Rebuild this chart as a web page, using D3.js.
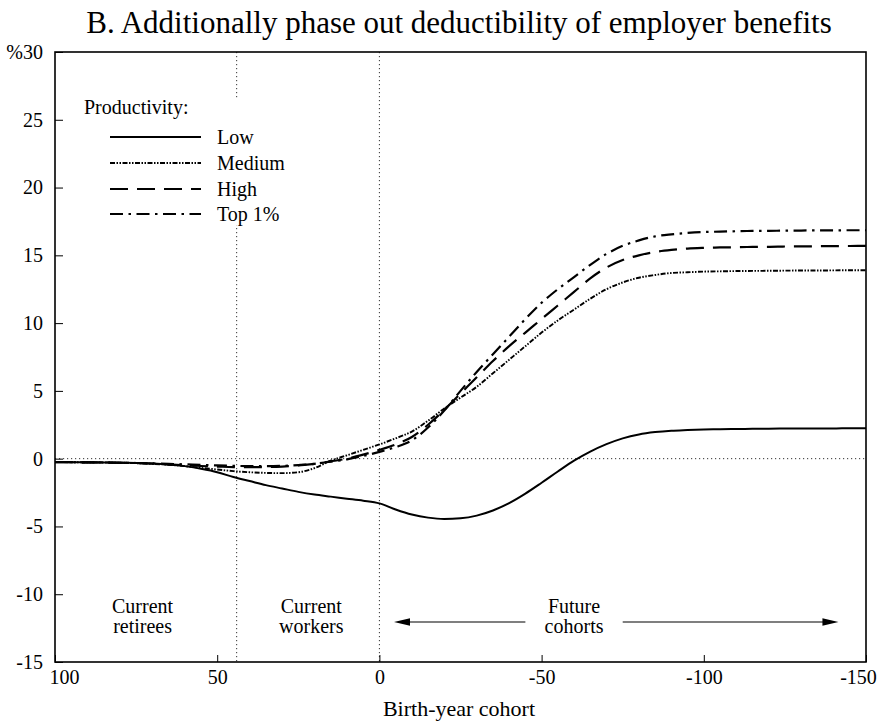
<!DOCTYPE html>
<html><head><meta charset="utf-8">
<script src="https://cdn.jsdelivr.net/npm/d3@7"></script>
<style>
body{margin:0;background:#fff}
svg{display:block}
text{font-family:"Liberation Serif","Times New Roman",serif;fill:#000}
</style>
</head><body>
<svg id="chart" width="885" height="725"></svg>
<script>
// ---- data ----
const cohorts = [100,95,90,85,80,75,70,65,60,55,50,45,40,35,30,25,20,15,10,5,0,
  -5,-10,-15,-20,-25,-30,-35,-40,-45,-50,-55,-60,-65,-70,-75,-80,-85,-90,-95,-100,
  -105,-110,-115,-120,-125,-130,-135,-140,-145,-150];
const lowValues = [-0.25,-0.26,-0.27,-0.28,-0.30,-0.32,-0.36,-0.43,-0.55,-0.75,-1.0,-1.35,-1.65,-1.95,-2.2,-2.45,-2.65,-2.8,-2.95,-3.1,-3.3,
  -3.75,-4.12,-4.35,-4.45,-4.4,-4.2,-3.82,-3.28,-2.58,-1.78,-0.95,-0.15,0.52,1.07,1.5,1.79,1.96,2.06,2.11,2.15,
  2.17,2.19,2.2,2.21,2.22,2.22,2.23,2.23,2.24,2.24];
const mediumValues = [-0.25,-0.26,-0.27,-0.28,-0.30,-0.33,-0.38,-0.45,-0.55,-0.68,-0.8,-0.92,-1.0,-1.05,-1.07,-1.0,-0.7,-0.15,0.25,0.65,1.05,
  1.5,2.0,2.8,3.7,4.5,5.3,6.3,7.3,8.3,9.3,10.2,11.0,11.8,12.5,13.0,13.35,13.55,13.7,13.75,13.8,
  13.82,13.84,13.85,13.86,13.87,13.88,13.88,13.89,13.9,13.9];
const highValues = [-0.25,-0.26,-0.27,-0.28,-0.30,-0.32,-0.36,-0.42,-0.48,-0.54,-0.58,-0.62,-0.63,-0.62,-0.58,-0.5,-0.38,-0.2,0.0,0.3,0.65,
  1.05,1.6,2.5,3.6,4.8,6.0,7.2,8.3,9.3,10.3,11.3,12.3,13.3,14.1,14.65,15.0,15.25,15.4,15.5,15.55,
  15.58,15.6,15.62,15.63,15.65,15.66,15.67,15.68,15.69,15.7];
const topValues = [-0.25,-0.26,-0.27,-0.28,-0.30,-0.32,-0.35,-0.38,-0.42,-0.46,-0.5,-0.53,-0.55,-0.55,-0.53,-0.47,-0.38,-0.22,-0.05,0.2,0.5,
  0.85,1.35,2.3,3.55,5.0,6.4,7.7,9.0,10.3,11.5,12.5,13.4,14.3,15.1,15.7,16.1,16.4,16.55,16.65,16.72,
  16.75,16.78,16.8,16.81,16.82,16.83,16.84,16.84,16.85,16.85];
const seriesNames = ["Low","Medium","High","Top 1%"];
const xTicks = [100,50,0,-50,-100,-150];
const yTicks = [-15,-10,-5,0,5,10,15,20,25,30];
const dividerCohorts = [44,0];
const regionLabels = [
  {lines:["Current","retirees"], at:73},
  {lines:["Current","workers"], at:21},
  {lines:["Future","cohorts"], at:-60}
];
const arrowSpans = [[-45,-4.5],[-75,-141.5]];
const arrowLevel = -12.05;

// ---- chart ----
const svg = d3.select("#chart");
const margin = {left:55, right:19, top:52, bottom:63};
const W = 885, H = 725;
const x = d3.scaleLinear().domain([100,-150]).range([margin.left, W - margin.right]);
const y = d3.scaleLinear().domain([-15,30]).range([H - margin.bottom, margin.top]);

const styles = [
  {dash:null, width:2},
  {dash:"5,1.5,1.5,1.5,1.5,1.5", width:1.9},
  {dash:"18,9", width:2.2},
  {dash:"13,5.5,2.5,5.5", width:2.2}
];
const seriesData = [lowValues, mediumValues, highValues, topValues];

// Title
svg.append("text").attr("x", 459).attr("y", 33).attr("text-anchor","middle")
  .style("font-size","31px").text("B. Additionally phase out deductibility of employer benefits");

// reference lines
const dotted = "1.2,2.8";
svg.append("line").attr("x1", x(100)).attr("x2", x(-150)).attr("y1", y(0)).attr("y2", y(0))
  .attr("stroke","#333").attr("stroke-width",1).attr("stroke-dasharray",dotted);
dividerCohorts.forEach(c => {
  svg.append("line").attr("x1", x(c)).attr("x2", x(c)).attr("y1", y(30)).attr("y2", y(-15))
    .attr("stroke","#333").attr("stroke-width",1).attr("stroke-dasharray",dotted);
});

// axes
const yAxis = d3.axisLeft(y).tickValues(yTicks).tickSize(-8).tickPadding(12)
  .tickFormat(d => d === 30 ? "%30" : String(d));
const gy = svg.append("g").attr("transform",`translate(${margin.left},0)`).call(yAxis);
gy.select(".domain").remove();
gy.selectAll("text").style("font-size","20px").style("font-family",'"Liberation Serif",serif');
gy.selectAll("line").attr("stroke","#000");

const xAxis = d3.axisBottom(x).tickValues(xTicks).tickSize(-7).tickPadding(8)
  .tickFormat(d => String(d));
const gx = svg.append("g").attr("transform",`translate(0,${H - margin.bottom})`).call(xAxis);
gx.select(".domain").remove();
gx.selectAll("text").style("font-size","20px").style("font-family",'"Liberation Serif",serif')
  .attr("dx", d => d === 100 ? 9 : (d === -150 ? -8 : 0));
gx.selectAll("line").attr("stroke","#000");

// frame
svg.append("rect").attr("x", x(100)).attr("y", y(30))
  .attr("width", x(-150) - x(100)).attr("height", y(-15) - y(30))
  .attr("fill","none").attr("stroke","#000").attr("stroke-width",1.6);

// axis title
svg.append("text").attr("x", 459).attr("y", 716).attr("text-anchor","middle")
  .style("font-size","22px").text("Birth-year cohort");

// lines
const line = d3.line().x((d,i) => x(cohorts[i])).y(d => y(d)).curve(d3.curveMonotoneX);
seriesData.forEach((vals,k) => {
  svg.append("path").datum(vals).attr("d", line).attr("fill","none")
    .attr("stroke","#000").attr("stroke-width", styles[k].width)
    .attr("stroke-dasharray", styles[k].dash);
});

// region labels
regionLabels.forEach(r => {
  const t = svg.append("text").attr("text-anchor","middle").style("font-size","20px");
  r.lines.forEach((ln,i) => {
    t.append("tspan").attr("x", x(r.at)).attr("y", y(arrowLevel) - 9 + i*20).text(ln);
  });
});

// arrows
arrowSpans.forEach(([from,to]) => {
  const x0 = x(from), x1 = x(to), yy = y(arrowLevel);
  const dir = Math.sign(x1 - x0);
  svg.append("line").attr("x1", x0).attr("x2", x1 - dir*10).attr("y1", yy).attr("y2", yy)
    .attr("stroke","#000").attr("stroke-width",1.2);
  svg.append("path")
    .attr("d", `M${x1},${yy} L${x1 - dir*16},${yy-3.8} L${x1 - dir*16},${yy+3.8} Z`)
    .attr("fill","#000");
});

// legend
const lg = svg.append("g");
lg.append("rect").attr("x", 80).attr("y", 99).attr("width", 210).attr("height", 126).attr("fill","#fff");
lg.append("text").attr("x", 84).attr("y", 114).style("font-size","20px").text("Productivity:");
const legendY = [137,163,189,214];
seriesNames.forEach((name,k) => {
  lg.append("line").attr("x1",110).attr("x2",201).attr("y1",legendY[k]).attr("y2",legendY[k])
    .attr("stroke","#000").attr("stroke-width",styles[k].width)
    .attr("stroke-dasharray",styles[k].dash);
  lg.append("text").attr("x",217).attr("y",legendY[k] + 7).style("font-size","20px").text(name);
});
</script>
</body></html>
